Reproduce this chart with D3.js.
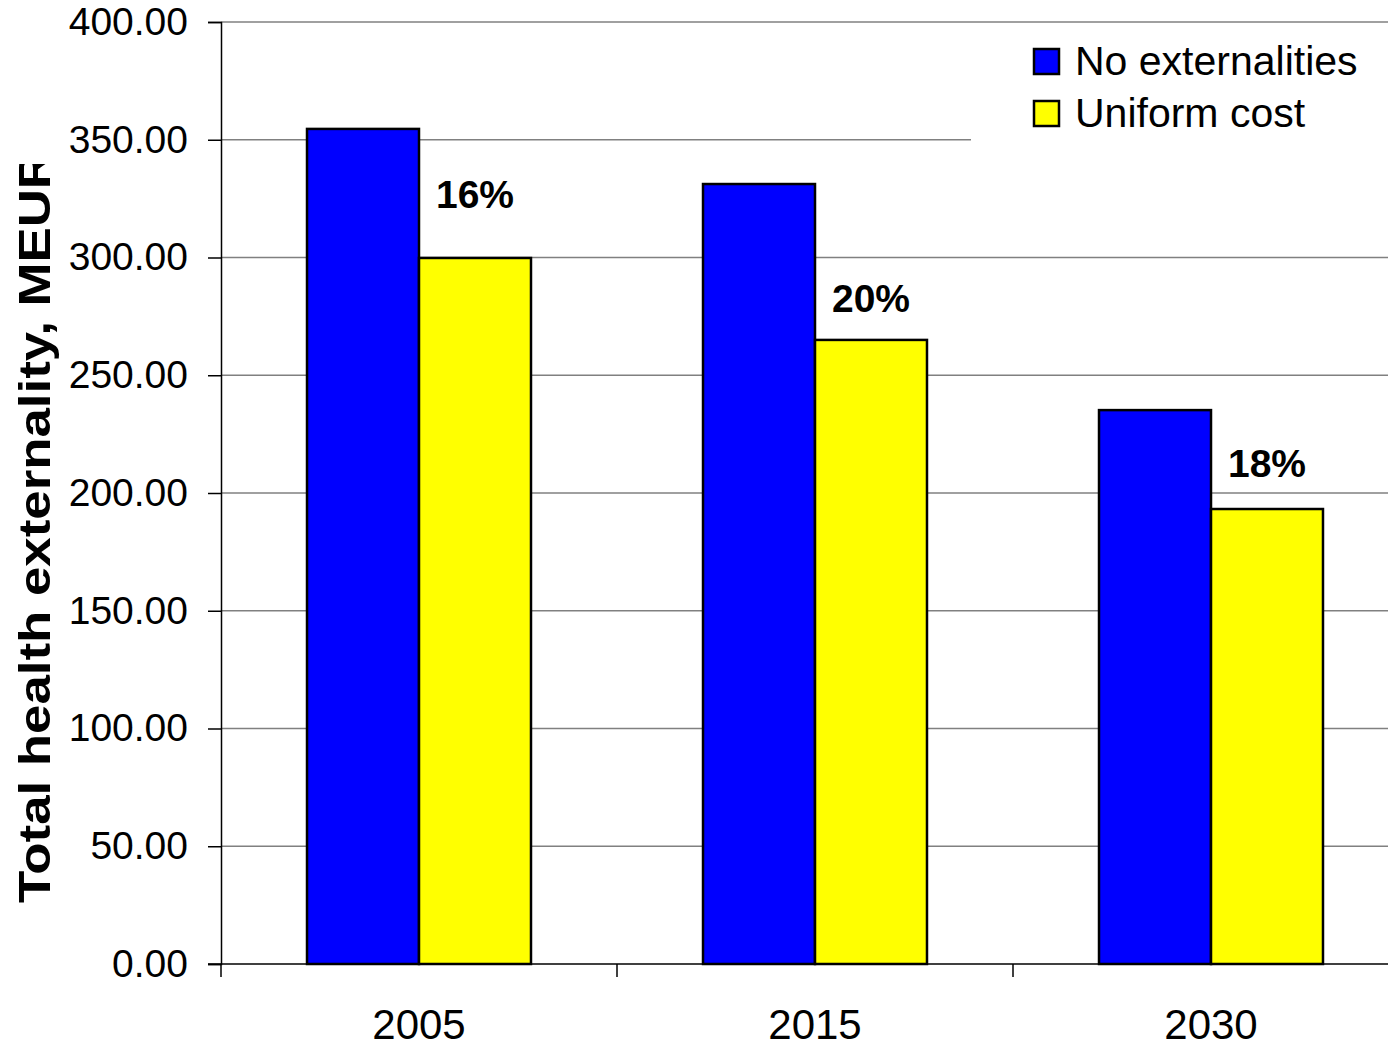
<!DOCTYPE html>
<html>
<head>
<meta charset="utf-8">
<script src="https://cdn.jsdelivr.net/npm/d3@7"></script>
<style>
  html, body { margin: 0; padding: 0; background: #fff; }
  svg { display: block; font-family: "Liberation Sans", Arial, sans-serif; }
</style>
</head>
<body>
<svg id="chart" width="1388" height="1047"></svg>
<script>
// Years on the category axis
const years = ["2005", "2015", "2030"];
// Total health externality (MEUR) per scenario
const noExternalities = [354.6, 331.2, 235.2];
const uniformCost = [299.8, 265.0, 193.2];
// Reduction labels and the value level at which each one sits
const reductionLabels = ["16%", "20%", "18%"];
const reductionLabelAt = [321, 277, 207];
// Scenario names and colours
const seriesNames = ["No externalities", "Uniform cost"];
const seriesColors = ["#0000ff", "#ffff00"];
// Value axis ticks
const yTicks = [0, 50, 100, 150, 200, 250, 300, 350, 400];

(function draw() {
  const svg = d3.select("#chart");
  const W = 1388, H = 1047;
  const plotLeft = 221, plotTop = 22, plotBottom = 964;
  const bandWidth = 396;
  const plotRight = plotLeft + bandWidth * years.length;
  const font = "'Liberation Sans', Arial, sans-serif";

  const y = d3.scaleLinear().domain([0, 400]).range([plotBottom, plotTop]);
  const x = d3.scaleBand().domain(years).range([plotLeft, plotRight]).paddingInner(0).paddingOuter(0);
  const inner = d3.scaleBand().domain(seriesNames).range([0, x.bandwidth()]).paddingInner(0).paddingOuter(0.768);

  // Horizontal gridlines
  svg.append("g")
    .selectAll("line")
    .data(yTicks.filter(d => d > 0))
    .join("line")
    .attr("x1", plotLeft).attr("x2", W)
    .attr("y1", d => y(d)).attr("y2", d => y(d))
    .attr("stroke", "#808080").attr("stroke-width", 1.5);

  // Bars
  const series = [noExternalities, uniformCost];
  const barG = svg.append("g");
  seriesNames.forEach((name, si) => {
    barG.selectAll(null)
      .data(years.map((yr, i) => ({ yr, v: series[si][i] })))
      .join("rect")
      .attr("x", d => x(d.yr) + inner(name))
      .attr("width", inner.bandwidth())
      .attr("y", d => y(d.v))
      .attr("height", d => y(0) - y(d.v))
      .attr("fill", seriesColors[si])
      .attr("stroke", "#000").attr("stroke-width", 2.5);
  });

  // Reduction percentages above the uniform-cost bars
  svg.append("g")
    .selectAll("text")
    .data(years.map((yr, i) => ({ yr, t: reductionLabels[i], at: reductionLabelAt[i] })))
    .join("text")
    .attr("x", d => x(d.yr) + inner("Uniform cost") + inner.bandwidth() / 2)
    .attr("y", d => y(d.at))
    .attr("text-anchor", "middle")
    .attr("font-size", 39).attr("font-weight", "bold")
    .text(d => d.t);

  // Legend (white box hides the gridline behind it)
  const legend = svg.append("g");
  legend.append("rect").attr("x", 971).attr("y", 30).attr("width", W - 971).attr("height", 118).attr("fill", "#fff");
  seriesNames.forEach((name, i) => {
    const ly = 49 + i * 52;
    legend.append("rect").attr("x", 1034).attr("y", ly).attr("width", 25).attr("height", 25)
      .attr("fill", seriesColors[i]).attr("stroke", "#000").attr("stroke-width", 2.5);
    legend.append("text").attr("x", 1075).attr("y", ly + 26).attr("font-size", 41).text(name);
  });

  // Value axis
  const yAxis = svg.append("g").attr("transform", `translate(${plotLeft},0)`)
    .call(d3.axisLeft(y).tickValues(yTicks).tickFormat(d3.format(".2f")).tickSize(13).tickPadding(20));
  yAxis.select(".domain").attr("stroke", "#000").attr("stroke-width", 1.5);
  yAxis.selectAll(".tick line").attr("stroke", "#000").attr("stroke-width", 1.5);
  yAxis.selectAll(".tick text").attr("font-size", 39).attr("fill", "#000").attr("font-family", font);

  // Category axis
  const xAxis = svg.append("g").attr("transform", `translate(0,${plotBottom})`)
    .call(d3.axisBottom(x).tickSize(0).tickPadding(45));
  xAxis.select(".domain").remove();
  xAxis.selectAll(".tick text").attr("font-size", 42).attr("fill", "#000").attr("font-family", font);
  svg.append("line").attr("x1", plotLeft - 13).attr("x2", W).attr("y1", plotBottom).attr("y2", plotBottom)
    .attr("stroke", "#000").attr("stroke-width", 1.5);
  svg.append("g").selectAll("line")
    .data(d3.range(years.length + 1).map(i => plotLeft + i * bandWidth).filter(v => v < W))
    .join("line")
    .attr("x1", d => d).attr("x2", d => d).attr("y1", plotBottom).attr("y2", plotBottom + 13)
    .attr("stroke", "#000").attr("stroke-width", 1.5);

  // Value axis title, clipped at the top of the frame
  svg.append("clipPath").attr("id", "titleClip")
    .append("rect").attr("x", 0).attr("y", 164).attr("width", 100).attr("height", H - 164);
  svg.append("g").attr("clip-path", "url(#titleClip)")
    .append("text")
    .attr("transform", "translate(50,903) rotate(-90)")
    .attr("text-anchor", "start")
    .attr("font-size", 44).attr("font-weight", "bold")
    .attr("textLength", 752).attr("lengthAdjust", "spacingAndGlyphs")
    .text("Total health externality, MEUR");
})();
</script>
</body>
</html>
